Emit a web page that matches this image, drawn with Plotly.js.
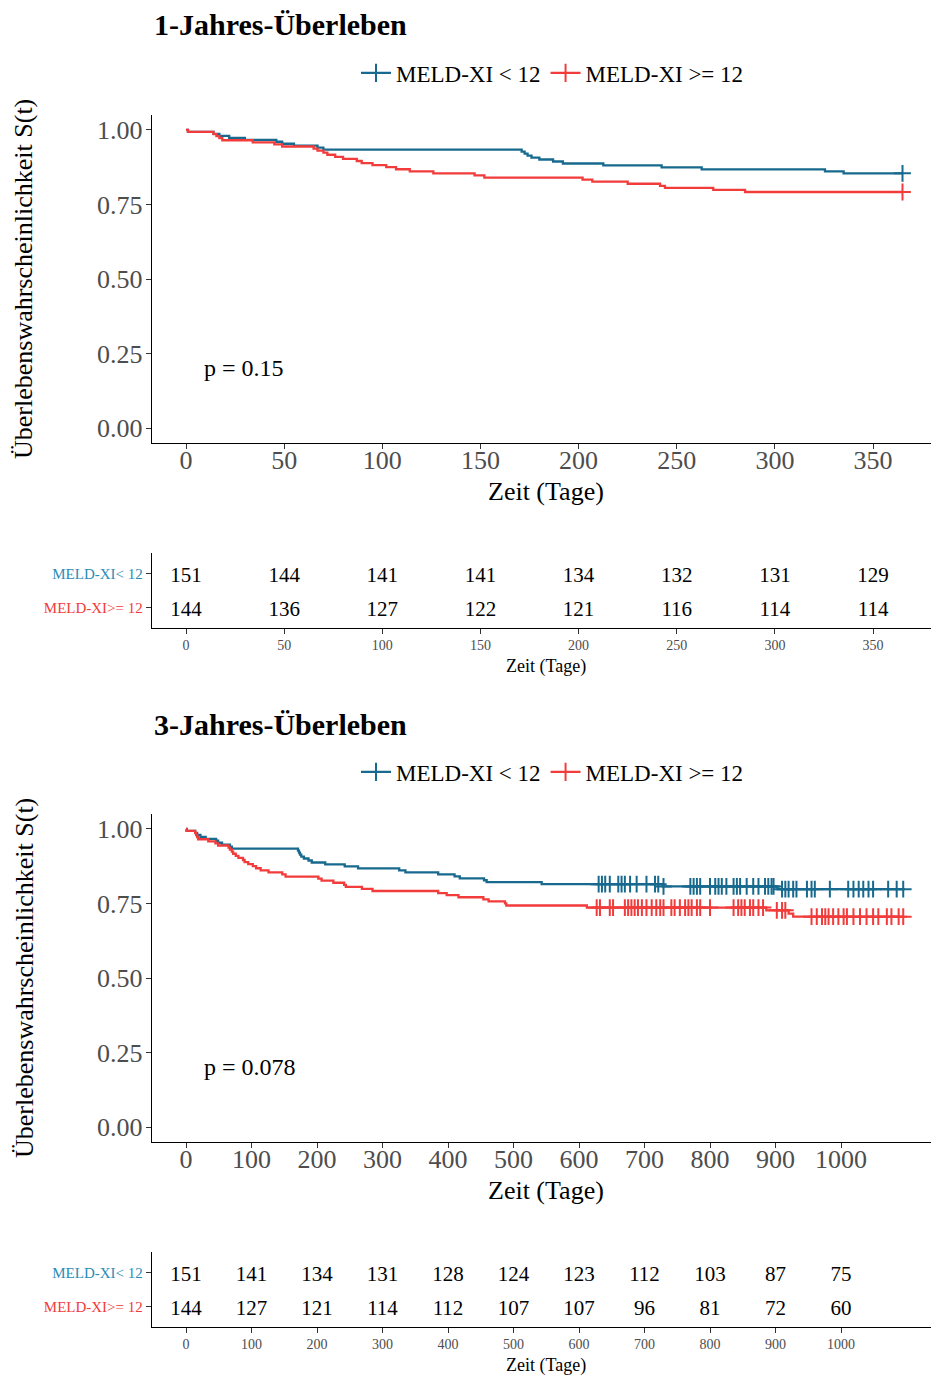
<!DOCTYPE html>
<html>
<head>
<meta charset="utf-8">
<script src="https://cdn.plot.ly/plotly-3.0.1.min.js"></script>
<style>html,body{margin:0;padding:0;background:#fff;}#chart{width:931px;height:1376px;}</style>
</head>
<body>
<div id="chart"></div>
<script>
// ---------- DATA ----------
const groupNames = ['MELD-XI &lt; 12', 'MELD-XI &gt;= 12'];
const riskLabels = ['MELD-XI&lt; 12', 'MELD-XI&gt;= 12'];

// Panel 1: 1-year survival (step points: time in days, survival)
const p1BlueTime = [0, 1, 14, 17, 22, 30, 46, 49, 55, 67, 70, 171, 172.5, 174, 176, 180, 187, 192, 212.6, 242.3, 262.7, 325.5, 335, 365];
const p1BlueSurv = [1, 0.9934, 0.9868, 0.9801, 0.9735, 0.9669, 0.9603, 0.9536, 0.9470, 0.9404, 0.9338, 0.9272, 0.9205, 0.9139, 0.9073, 0.9007, 0.8940, 0.8874, 0.8808, 0.8742, 0.8675, 0.8609, 0.8543, 0.8543];
const p1RedTime = [0, 1, 14, 15.5, 17, 18.5, 34, 45, 49, 65, 67, 70, 72, 76, 80, 87, 89.5, 95, 102, 107, 114, 126, 147, 152, 202, 207, 225, 241.5, 244, 268.6, 284.8, 365];
const p1RedSurv = [1, 0.9931, 0.9861, 0.9792, 0.9722, 0.9653, 0.9583, 0.9514, 0.9444, 0.9375, 0.9306, 0.9236, 0.9167, 0.9097, 0.9028, 0.8958, 0.8889, 0.8819, 0.8750, 0.8681, 0.8611, 0.8542, 0.8472, 0.8403, 0.8333, 0.8264, 0.8194, 0.8125, 0.8056, 0.7986, 0.7917, 0.7917];
const p1BlueCensor = [365];
const p1RedCensor = [365];
const p1RiskTimes = [0, 50, 100, 150, 200, 250, 300, 350];
const p1RiskBlue = [151, 144, 141, 141, 134, 132, 131, 129];
const p1RiskRed = [144, 136, 127, 122, 121, 116, 114, 114];
const p1Ticks = [0, 50, 100, 150, 200, 250, 300, 350];
const p1PValue = 'p = 0.15';

// Panel 2: 3-year survival
const p2BlueTime = [0, 1, 14, 17, 22, 30, 46, 49, 55, 67, 70, 171, 172.5, 174, 176, 180, 187, 192, 212.6, 242.3, 262.7, 325.5, 335, 385, 410, 418, 455, 459, 543, 728, 903, 1095];
const p2BlueSurv = [1, 0.9934, 0.9868, 0.9801, 0.9735, 0.9669, 0.9603, 0.9536, 0.9470, 0.9404, 0.9338, 0.9272, 0.9205, 0.9139, 0.9073, 0.9007, 0.8940, 0.8874, 0.8808, 0.8742, 0.8675, 0.8609, 0.8543, 0.8477, 0.8411, 0.8344, 0.8278, 0.8212, 0.8146, 0.8072, 0.7979, 0.7979];
const p2RedTime = [0, 1, 14, 15.5, 17, 18.5, 34, 45, 49, 65, 67, 70, 72, 76, 80, 87, 89.5, 95, 102, 107, 114, 126, 147, 152, 202, 207, 225, 241.5, 244, 268.6, 284.8, 385, 398, 416, 454, 462, 487, 489, 612, 886, 920, 927, 1095];
const p2RedSurv = [1, 0.9931, 0.9861, 0.9792, 0.9722, 0.9653, 0.9583, 0.9514, 0.9444, 0.9375, 0.9306, 0.9236, 0.9167, 0.9097, 0.9028, 0.8958, 0.8889, 0.8819, 0.8750, 0.8681, 0.8611, 0.8542, 0.8472, 0.8403, 0.8333, 0.8264, 0.8194, 0.8125, 0.8056, 0.7986, 0.7917, 0.7847, 0.7778, 0.7708, 0.7639, 0.7569, 0.7500, 0.7431, 0.7361, 0.7270, 0.7160, 0.7055, 0.7055];
const p2BlueCensor = [630, 635, 640, 647, 660, 665, 670, 678, 688, 703, 716, 721, 729, 770, 775, 780, 785, 800, 808, 813, 818, 825, 836, 841, 846, 856, 866, 874, 884, 889, 894, 897, 910, 915, 920, 927, 932, 948, 955, 960, 983, 1011, 1019, 1027, 1034, 1042, 1049, 1072, 1085, 1095];
const p2RedCensor = [627, 632, 647, 652, 670, 675, 680, 685, 690, 696, 703, 711, 718, 724, 729, 741, 746, 754, 762, 767, 772, 780, 785, 800, 836, 843, 848, 853, 861, 866, 874, 881, 902, 910, 915, 955, 963, 971, 976, 981, 988, 996, 1004, 1009, 1019, 1029, 1039, 1049, 1057, 1070, 1077, 1088, 1095];
const p2RiskTimes = [0, 100, 200, 300, 400, 500, 600, 700, 800, 900, 1000];
const p2RiskBlue = [151, 141, 134, 131, 128, 124, 123, 112, 103, 87, 75];
const p2RiskRed = [144, 127, 121, 114, 112, 107, 107, 96, 81, 72, 60];
const p2Ticks = [0, 100, 200, 300, 400, 500, 600, 700, 800, 900, 1000];
const p2PValue = 'p = 0.078';

const titles = ['1-Jahres-Überleben', '3-Jahres-Überleben'];
const yTitle = 'Überlebenswahrscheinlichkeit S(t)';
const xTitle = 'Zeit (Tage)';

// ---------- STYLE ----------
const W = 931, H = 1376;
const FONT = 'Liberation Serif, Times New Roman, serif';
const BLUE = '#17698e';
const RED = '#f23b3b';
const BLUE_LBL = '#2a8db5';
const GRAY = '#4d4d4d';
const px = p => p / W;
const py = p => 1 - p / H;
const ROW_TEXT_SHIFT = -0.1; // visual nudge of numbers within a risk-table row

function stepAt(times, survs, t) {
  let v = survs[0];
  for (let i = 0; i < times.length; i++) { if (times[i] <= t) v = survs[i]; }
  return v;
}

const traces = [];
function addKM(times, survs, cens, color, xa, ya) {
  traces.push({x: times, y: survs, type: 'scatter', mode: 'lines', line: {shape: 'hv', color: color, width: 2.3},
    xaxis: xa, yaxis: ya, showlegend: false, hoverinfo: 'skip'});
  traces.push({x: cens, y: cens.map(t => stepAt(times, survs, t)), type: 'scatter', mode: 'markers',
    marker: {symbol: 'cross-thin', size: 12, color: color, line: {color: color, width: 2}},
    xaxis: xa, yaxis: ya, showlegend: false, hoverinfo: 'skip'});
}
addKM(p1BlueTime, p1BlueSurv, p1BlueCensor, BLUE, 'x', 'y');
addKM(p1RedTime, p1RedSurv, p1RedCensor, RED, 'x', 'y');
addKM(p2BlueTime, p2BlueSurv, p2BlueCensor, BLUE, 'x3', 'y3');
addKM(p2RedTime, p2RedSurv, p2RedCensor, RED, 'x3', 'y3');

// legend entries
[['legend', 'x', 'y'], ['legend2', 'x3', 'y3']].forEach(([lg, xa, ya]) => {
  [[groupNames[0], BLUE], [groupNames[1], RED]].forEach(([nm, c]) => {
    traces.push({x: [null], y: [null], type: 'scatter', mode: 'lines+markers', name: nm, legend: lg,
      line: {color: c, width: 2.3}, marker: {symbol: 'cross-thin', size: 13, color: c, line: {color: c, width: 2}},
      xaxis: xa, yaxis: ya, hoverinfo: 'skip'});
  });
});

// risk tables
function addRisk(times, blue, red, xa, ya) {
  [[blue, 2], [red, 1]].forEach(([vals, row]) => {
    traces.push({x: times, y: times.map(() => row + ROW_TEXT_SHIFT), text: vals.map(String), type: 'scatter', mode: 'text',
      textposition: 'middle center', textfont: {family: FONT, size: 21, color: '#000'},
      xaxis: xa, yaxis: ya, showlegend: false, hoverinfo: 'skip', cliponaxis: false});
  });
}
addRisk(p1RiskTimes, p1RiskBlue, p1RiskRed, 'x2', 'y2');
addRisk(p2RiskTimes, p2RiskBlue, p2RiskRed, 'x4', 'y4');

// ---------- LAYOUT ----------
const baseAxis = {showgrid: false, zeroline: false, showline: true, linecolor: '#000', linewidth: 1.2,
  ticks: 'outside', ticklen: 5, tickwidth: 1, tickcolor: '#333', fixedrange: true};

function kmX(range, ticks, anchor) {
  return Object.assign({}, baseAxis, {domain: [px(152), 1], range: range, tickvals: ticks,
    tickfont: {family: FONT, size: 26, color: GRAY}, anchor: anchor, ticklabelstandoff: -11});
}
function kmY(d0, d1, anchor) {
  return Object.assign({}, baseAxis, {domain: [py(d1), py(d0)], range: [-0.05, 1.05],
    tickvals: [0, 0.25, 0.5, 0.75, 1], ticktext: ['0.00', '0.25', '0.50', '0.75', '1.00'],
    tickfont: {family: FONT, size: 26, color: GRAY}, anchor: anchor, ticklabelstandoff: -2});
}
function rtX(range, ticks, anchor) {
  return Object.assign({}, baseAxis, {domain: [px(152), 1], range: range, tickvals: ticks,
    tickfont: {family: FONT, size: 14, color: GRAY}, anchor: anchor, ticklabelstandoff: -1});
}
function rtY(d0, d1, anchor) {
  return Object.assign({}, baseAxis, {domain: [py(d1), py(d0)], range: [0.4, 2.6], tickvals: [1, 2],
    ticktext: ['<span style="color:' + RED + '">' + riskLabels[1] + '</span>',
               '<span style="color:' + BLUE_LBL + '">' + riskLabels[0] + '</span>'],
    tickfont: {family: FONT, size: 15, color: GRAY}, anchor: anchor});
}

const r1 = [(152 - 186) / 1.963, (931 - 186) / 1.963];
const r2 = [(152 - 186) / 0.655, (931 - 186) / 0.655];

function ann(text, xp, yp, size, opts) {
  return Object.assign({text: text, x: px(xp), y: py(yp), xref: 'paper', yref: 'paper', showarrow: false,
    font: {family: FONT, size: size, color: '#000'}, xanchor: 'center', yanchor: 'middle'}, opts || {});
}

const legendBase = {orientation: 'h', xanchor: 'left', yanchor: 'middle',
  font: {family: FONT, size: 23, color: '#000'}, bgcolor: 'rgba(0,0,0,0)', itemwidth: 30};

const layout = {
  width: W, height: H, margin: {l: 0, r: 0, t: 0, b: 0},
  paper_bgcolor: '#fff', plot_bgcolor: '#fff',
  xaxis: kmX(r1, p1Ticks, 'y'), yaxis: kmY(115, 443, 'x'),
  xaxis2: rtX(r1, p1Ticks, 'y2'), yaxis2: rtY(553, 628, 'x2'),
  xaxis3: kmX(r2, p2Ticks, 'y3'), yaxis3: kmY(814, 1142, 'x3'),
  xaxis4: rtX(r2, p2Ticks, 'y4'), yaxis4: rtY(1252, 1327, 'x4'),
  legend: Object.assign({}, legendBase, {x: px(356), y: py(73)}),
  legend2: Object.assign({}, legendBase, {x: px(356), y: py(772)}),
  annotations: [
    ann('<b>' + titles[0] + '</b>', 152, 25, 30, {xanchor: 'left'}),
    ann('<b>' + titles[1] + '</b>', 152, 724, 30, {xanchor: 'left'}),
    ann(yTitle, 24, 279, 26, {textangle: -90}),
    ann(yTitle, 24, 978, 26, {textangle: -90}),
    ann(xTitle, 546, 491, 26),
    ann(xTitle, 546, 1190, 26),
    ann(xTitle, 546, 666, 18),
    ann(xTitle, 546, 1365, 18),
    {text: p1PValue, x: 8, y: 0.2, xref: 'x', yref: 'y', showarrow: false, xanchor: 'left', yanchor: 'middle',
      font: {family: FONT, size: 24, color: '#000'}},
    {text: p2PValue, x: 24, y: 0.2, xref: 'x3', yref: 'y3', showarrow: false, xanchor: 'left', yanchor: 'middle',
      font: {family: FONT, size: 24, color: '#000'}}
  ]
};

Plotly.newPlot('chart', traces, layout, {staticPlot: true, displayModeBar: false});
</script>
</body>
</html>
